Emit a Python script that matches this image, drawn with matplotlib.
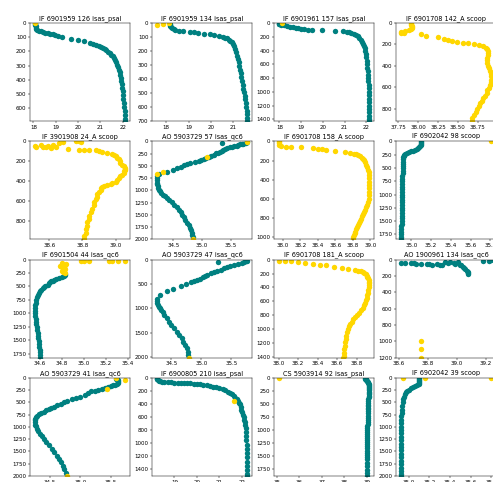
import matplotlib.pyplot as plt

# profile data as (depth, value) pairs
titles = ["IF 6901959 126 isas_psal", "IF 6901959 134 isas_psal",
          "IF 6901961 157 isas_psal", "IF 6901708 142_A scoop",
          "IF 3901908 24_A scoop", "AO 5903729 57 isas_qc6",
          "IF 6901708 158_A scoop", "IF 6902042 98 scoop",
          "IF 6901504 44 isas_qc6", "AO 5903729 47 isas_qc6",
          "IF 6901708 181_A scoop", "AO 1900961 134 isas_qc6",
          "AO 5903729 41 isas_qc6", "IF 6900805 210 isas_psal",
          "CS 5903914 92 isas_psal", "IF 6902042 39 scoop"]

teal_01 = [(0,18.08),(8,18.08),(16,18.09),(24,18.10),(32,18.11),(40,18.13),(48,18.17),(54,18.24),(59,18.33),(63,18.43),(67,18.54),(71,18.65),(75,18.76),(79,18.87),(84,18.98),(90,19.08),(101,19.30),(110,19.68),(119,20.00),(130,20.28),(140,20.55),(147,20.68),(154,20.80),(161,20.92),(168,21.03),(176,21.12),(184,21.20),(193,21.27),(202,21.34),(212,21.41),(223,21.48),(235,21.55),(248,21.61),(262,21.66),(277,21.71),(293,21.76),(310,21.80),(328,21.83),(347,21.86),(367,21.89),(388,21.92),(410,21.94),(433,21.96),(457,21.98),(482,22.00),(508,22.02),(535,22.03),(562,22.05),(590,22.06),(618,22.08),(646,22.09),(674,22.11),(690,22.12)]
gold_01 = [(0,18.05)]

teal_02 = [(5,18.15),(12,18.17),(19,18.19),(28,18.23),(38,18.27),(45,18.34),(50,18.41),(55,18.56),(60,18.76),(62,19.05),(67,19.23),(71,19.41),(76,19.67),(81,19.94),(86,20.15),(90,20.34),(98,20.53),(104,20.62),(110,20.71),(118,20.79),(126,20.86),(138,20.92),(150,20.98),(167,21.03),(186,21.08),(208,21.13),(233,21.18),(258,21.22),(282,21.25),(305,21.27),(333,21.30),(360,21.33),(388,21.36),(416,21.39),(444,21.42),(471,21.45),(495,21.48),(520,21.50),(543,21.53),(570,21.55),(598,21.57),(626,21.59),(652,21.61),(676,21.62),(700,21.63)]
gold_02 = [(14,17.57),(10,17.87),(0,18.12)]

teal_03 = [(0,17.96),(8,17.97),(16,18.00),(25,18.08),(35,18.20),(45,18.35),(55,18.50),(64,18.62),(72,18.75),(79,18.86),(85,19.00),(90,19.15),(95,19.30),(100,19.50),(108,19.95),(115,20.55),(120,20.95),(125,21.10),(132,21.22),(142,21.32),(155,21.42),(170,21.51),(190,21.60),(212,21.67),(240,21.74),(270,21.80),(300,21.85),(335,21.89),(370,21.93),(410,21.96),(450,21.98),(500,22.00),(550,22.02),(600,22.04),(650,22.05),(700,22.07),(750,22.08),(800,22.09),(850,22.10),(900,22.11),(950,22.11),(1000,22.12),(1050,22.12),(1100,22.13),(1150,22.13),(1200,22.14),(1250,22.14),(1300,22.15),(1350,22.15),(1400,22.15),(1425,22.15)]
gold_03 = [(0,18.12)]

teal_04 = []
gold_04 = [(0,37.91),(10,37.91),(20,37.91),(30,37.92),(40,37.92),(50,37.92),(60,37.91),(70,37.89),(78,37.84),(84,37.79),(92,37.78),(97,37.82),(107,38.04),(120,38.10),(133,38.25),(150,38.33),(160,38.38),(168,38.43),(176,38.49),(183,38.56),(190,38.63),(199,38.70),(208,38.76),(218,38.81),(230,38.85),(245,38.87),(262,38.88),(280,38.88),(300,38.88),(325,38.87),(350,38.86),(375,38.87),(400,38.88),(425,38.89),(450,38.90),(475,38.91),(500,38.92),(530,38.92),(555,38.91),(580,38.90),(605,38.89),(630,38.87),(655,38.86),(680,38.84),(705,38.82),(725,38.80),(750,38.78),(777,38.76),(800,38.74),(830,38.72),(860,38.70),(890,38.68),(916,38.67)]

teal_05 = []
gold_05 = [(0,38.76),(0,38.78),(10,38.79),(10,38.68),(20,38.66),(34,38.62),(44,38.59),(54,38.56),(54,38.52),(44,38.51),(37,38.55),(61,38.58),(68,38.61),(54,38.64),(78,38.71),(85,38.78),(88,38.81),(88,38.84),(88,38.88),(95,38.90),(102,38.92),(112,38.95),(123,38.98),(135,38.99),(146,39.00),(163,39.01),(180,39.02),(197,39.03),(214,39.03),(232,39.04),(249,39.05),(262,39.06),(272,39.06),(286,39.06),(300,39.05),(317,39.05),(334,39.04),(351,39.03),(368,39.02),(385,39.01),(402,39.00),(416,38.98),(429,38.97),(436,38.95),(443,38.93),(456,38.92),(470,38.91),(487,38.91),(504,38.90),(530,38.89),(555,38.89),(580,38.88),(606,38.87),(640,38.87),(674,38.86),(708,38.85),(742,38.84),(776,38.84),(810,38.83),(844,38.83),(878,38.82),(912,38.82),(946,38.81),(980,38.81)]

teal_06 = [(20,35.78),(35,35.76),(41,35.35),(50,35.72),(55,35.70),(65,35.66),(75,35.63),(90,35.60),(100,35.56),(110,35.52),(124,35.48),(140,35.44),(160,35.40),(176,35.37),(193,35.34),(210,35.31),(230,35.28),(248,35.24),(270,35.20),(290,35.16),(317,35.12),(340,35.07),(359,35.03),(372,34.98),(393,34.94),(414,34.87),(440,34.80),(455,34.74),(490,34.69),(524,34.64),(552,34.57),(593,34.49),(621,34.40),(662,34.26),(700,34.22),(745,34.21),(790,34.21),(848,34.22),(880,34.22),(917,34.23),(950,34.24),(986,34.25),(1020,34.27),(1055,34.29),(1090,34.32),(1124,34.35),(1160,34.39),(1193,34.43),(1245,34.47),(1297,34.52),(1350,34.56),(1400,34.60),(1450,34.63),(1503,34.66),(1555,34.69),(1607,34.71),(1660,34.74),(1710,34.77),(1760,34.79),(1814,34.81),(1866,34.82),(1917,34.83),(1960,34.84)]
gold_06 = [(20,35.79),(317,35.09),(628,34.33),(676,34.22),(2000,34.85)]

teal_07 = []
gold_07 = [(0,37.95),(11,37.95),(22,37.95),(36,37.96),(50,37.98),(57,38.03),(64,38.09),(64,38.21),(71,38.34),(78,38.40),(85,38.45),(92,38.49),(99,38.60),(110,38.71),(120,38.77),(128,38.81),(137,38.84),(146,38.86),(158,38.88),(170,38.90),(185,38.92),(199,38.93),(220,38.94),(242,38.95),(270,38.96),(295,38.97),(320,38.98),(348,38.98),(385,38.99),(419,38.99),(455,38.99),(490,38.99),(525,38.99),(561,38.98),(597,38.98),(632,38.97),(660,38.96),(686,38.95),(712,38.94),(739,38.93),(760,38.92),(782,38.90),(805,38.89),(828,38.88),(850,38.87),(870,38.86),(895,38.85),(917,38.84),(940,38.83),(959,38.82),(978,38.81),(995,38.80),(1020,38.80)]

teal_08 = [(0,35.10),(15,35.10),(30,35.10),(50,35.10),(70,35.10),(90,35.09),(110,35.08),(130,35.07),(146,35.06),(160,35.04),(175,35.02),(190,35.00),(205,34.98),(220,34.96),(235,34.94),(250,34.93),(270,34.92),(300,34.91),(340,34.91),(380,34.91),(420,34.91),(460,34.91),(500,34.91),(550,34.91),(600,34.91),(650,34.90),(700,34.90),(750,34.90),(800,34.90),(850,34.90),(900,34.90),(950,34.90),(1000,34.90),(1050,34.90),(1100,34.90),(1150,34.90),(1200,34.90),(1250,34.90),(1300,34.90),(1350,34.90),(1400,34.90),(1450,34.90),(1500,34.90),(1550,34.90),(1600,34.89),(1650,34.89),(1700,34.89),(1750,34.89),(1800,34.89),(1842,34.89)]
gold_08 = [(0,35.81)]

teal_09 = [(269,34.83),(290,34.83),(312,34.82),(330,34.80),(344,34.77),(360,34.75),(375,34.73),(390,34.72),(406,34.70),(425,34.69),(445,34.68),(469,34.67),(490,34.65),(510,34.64),(531,34.63),(560,34.61),(594,34.60),(625,34.59),(656,34.58),(700,34.57),(750,34.56),(800,34.56),(850,34.55),(900,34.55),(950,34.55),(1000,34.55),(1050,34.55),(1100,34.56),(1156,34.56),(1200,34.56),(1250,34.57),(1312,34.57),(1370,34.58),(1420,34.58),(1469,34.58),(1520,34.59),(1570,34.59),(1625,34.59),(1680,34.60),(1730,34.60),(1781,34.60),(1825,34.60)]
gold_09 = [(30,34.97),(35,35.00),(28,35.05),(25,35.23),(30,35.26),(25,35.31),(20,35.38),(62,34.80),(80,34.84),(94,34.83),(110,34.81),(125,34.78),(140,34.80),(156,34.82),(175,34.83),(195,34.82),(219,34.80),(235,34.81),(250,34.83)]

teal_10 = [(21,35.77),(35,35.74),(48,35.28),(55,35.71),(69,35.68),(90,35.62),(117,35.54),(138,35.48),(158,35.43),(180,35.38),(206,35.32),(230,35.26),(254,35.21),(280,35.16),(309,35.10),(335,35.06),(364,35.02),(390,34.97),(412,34.93),(435,34.88),(460,34.82),(502,34.74),(550,34.66),(598,34.53),(653,34.42),(722,34.31),(804,34.25),(850,34.25),(893,34.26),(930,34.27),(962,34.29),(1000,34.31),(1031,34.32),(1080,34.35),(1134,34.38),(1200,34.42),(1271,34.46),(1340,34.50),(1409,34.54),(1480,34.59),(1546,34.63),(1615,34.67),(1684,34.70),(1750,34.73),(1821,34.76),(1890,34.77),(1959,34.78)]
gold_10 = [(2010,34.79)]

teal_11 = []
gold_11 = [(15,38.00),(24,38.07),(24,38.13),(34,38.20),(49,38.27),(58,38.35),(73,38.42),(83,38.49),(107,38.57),(122,38.65),(131,38.71),(146,38.78),(158,38.81),(170,38.84),(183,38.86),(195,38.87),(212,38.89),(229,38.90),(248,38.91),(268,38.92),(292,38.93),(316,38.93),(340,38.93),(365,38.93),(400,38.93),(438,38.92),(475,38.92),(511,38.91),(548,38.90),(584,38.89),(620,38.88),(657,38.87),(694,38.86),(730,38.84),(767,38.82),(803,38.80),(832,38.78),(861,38.76),(893,38.75),(925,38.73),(961,38.72),(997,38.71),(1046,38.70),(1095,38.69),(1143,38.69),(1192,38.68),(1240,38.68),(1289,38.67),(1338,38.67),(1387,38.67),(1410,38.66)]

teal_12 = [(42,38.61),(44,38.64),(42,38.68),(46,38.70),(55,38.72),(50,38.75),(55,38.79),(58,38.81),(63,38.83),(55,38.86),(60,38.88),(63,38.90),(34,38.92),(38,38.94),(34,38.95),(46,38.98),(55,38.99),(34,39.01),(60,39.02),(70,39.03),(85,39.04),(100,39.05),(117,39.06),(135,39.07),(150,39.08),(165,39.08),(180,39.08),(13,39.18),(13,39.22),(4,39.24)]
gold_12 = [(1000,38.75),(1100,38.75),(1200,38.75)]

teal_13 = [(14,35.59),(30,35.60),(50,35.61),(70,35.62),(90,35.62),(103,35.62),(120,35.60),(138,35.57),(155,35.54),(172,35.51),(190,35.46),(207,35.40),(224,35.35),(241,35.29),(258,35.24),(276,35.18),(310,35.12),(345,35.07),(380,35.00),(414,34.93),(440,34.86),(469,34.79),(500,34.73),(538,34.68),(560,34.62),(586,34.57),(610,34.52),(634,34.48),(660,34.44),(690,34.40),(718,34.36),(745,34.32),(770,34.29),(793,34.27),(830,34.26),(862,34.25),(900,34.25),(952,34.26),(990,34.27),(1034,34.29),(1090,34.31),(1138,34.34),(1190,34.37),(1241,34.40),(1310,34.44),(1379,34.48),(1450,34.53),(1517,34.57),(1585,34.61),(1655,34.65),(1725,34.69),(1793,34.72),(1860,34.74),(1931,34.76)]
gold_13 = [(0,35.58),(34,35.74),(221,35.43),(2000,34.78)]

teal_14 = [(0,18.21),(10,18.22),(20,18.24),(31,18.26),(42,18.30),(52,18.36),(60,18.45),(65,18.55),(68,18.70),(69,18.86),(71,19.00),(73,19.14),(76,19.30),(78,19.43),(81,19.57),(84,19.71),(89,19.86),(94,20.00),(99,20.14),(104,20.29),(112,20.43),(120,20.57),(132,20.71),(146,20.86),(158,21.00),(172,21.14),(190,21.26),(209,21.36),(230,21.47),(251,21.57),(277,21.64),(303,21.71),(330,21.76),(355,21.81),(380,21.86),(407,21.90),(445,21.94),(486,21.97),(525,22.00),(564,22.04),(603,22.07),(642,22.10),(680,22.12),(721,22.14),(773,22.16),(825,22.17),(890,22.18),(955,22.19),(1020,22.20),(1085,22.20),(1150,22.21),(1215,22.22),(1280,22.23),(1345,22.23),(1410,22.24),(1475,22.24),(1500,22.24)]
gold_14 = [(355,21.64)]

teal_15 = [(0,38.93),(13,38.94),(26,38.95),(39,38.97),(52,38.99),(65,39.01),(84,39.04),(100,39.06),(115,39.08),(130,39.10),(150,39.11),(170,39.12),(190,39.12),(214,39.12),(240,39.11),(265,39.11),(290,39.10),(311,39.10),(340,39.09),(370,39.08),(408,39.07),(440,39.07),(475,39.06),(510,39.06),(540,39.06),(570,39.06),(600,39.05),(640,39.05),(680,39.05),(720,39.05),(764,39.04),(800,39.04),(840,39.04),(880,39.04),(920,39.03),(959,39.03),(1000,39.03),(1040,39.03),(1080,39.03),(1120,39.03),(1153,39.03),(1190,39.03),(1230,39.03),(1270,39.03),(1310,39.03),(1347,39.03),(1390,39.02),(1430,39.02),(1470,39.02),(1510,39.02),(1560,39.01),(1625,39.01),(1690,39.01),(1755,39.01),(1820,39.01),(1875,39.01)]
gold_15 = [(0,35.07)]

teal_16 = [(0,35.10),(20,35.10),(40,35.10),(56,35.10),(80,35.10),(100,35.10),(125,35.10),(150,35.08),(174,35.06),(195,35.04),(215,35.02),(240,35.00),(264,34.98),(290,34.97),(333,34.96),(380,34.95),(438,34.94),(500,34.94),(576,34.93),(650,34.93),(720,34.93),(785,34.92),(850,34.92),(920,34.92),(993,34.92),(1060,34.92),(1130,34.92),(1200,34.92),(1270,34.92),(1340,34.92),(1410,34.92),(1480,34.92),(1550,34.92),(1620,34.92),(1688,34.92),(1760,34.92),(1830,34.92),(1900,34.92),(1965,34.92),(2000,34.92)]
gold_16 = [(0,34.94),(0,35.16),(0,35.80)]

teal_sets = [teal_01, teal_02, teal_03, teal_04, teal_05, teal_06, teal_07, teal_08,
             teal_09, teal_10, teal_11, teal_12, teal_13, teal_14, teal_15, teal_16]
gold_sets = [gold_01, gold_02, gold_03, gold_04, gold_05, gold_06, gold_07, gold_08,
             gold_09, gold_10, gold_11, gold_12, gold_13, gold_14, gold_15, gold_16]

W, H = 493, 482
fig = plt.figure(figsize=(W / 100, H / 100), dpi=100)

for k in range(16):
    row, col = divmod(k, 4)
    left = 30 + 122 * col
    top = 23 + 118.3 * row
    ax = fig.add_axes([left / W, 1 - (top + 98) / H, 100 / W, 98 / H])
    for pts, color in ((teal_sets[k], 'teal'), (gold_sets[k], 'gold')):
        if pts:
            z, v = zip(*pts)
            ax.scatter(v, z, s=15, color=color, linewidths=0)
    deepest = max(p[0] for p in teal_sets[k] + gold_sets[k])
    ax.set_ylim(deepest, 0)
    ax.set_title(titles[k], fontsize=4.7, pad=2.2)
    ax.tick_params(labelsize=4, length=1.4, width=0.35, pad=1.2)
    for sp in ax.spines.values():
        sp.set_linewidth(0.35)

fig.savefig('out.png', dpi=100)
